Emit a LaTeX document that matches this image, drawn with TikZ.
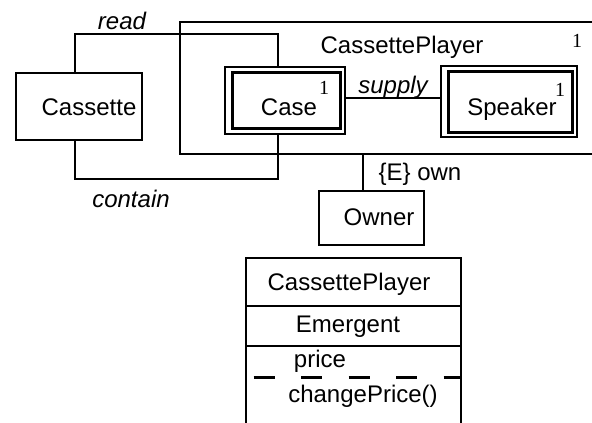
\documentclass[tikz,border=0pt]{standalone}
\usepackage{fontspec}
\setmainfont{Liberation Sans}
\newfontfamily\serifone{Liberation Serif}
\begin{document}
\begin{tikzpicture}[x=1pt,y=-1pt,
  box/.style={draw, line width=2.6pt, inner sep=0pt},
  obox/.style={draw, line width=2pt, inner sep=0pt},
  ibox/.style={draw, line width=3pt, inner sep=0pt},
  conn/.style={line width=2.4pt},
  lbl/.style={font=\fontsize{24}{28}\selectfont, inner sep=0pt, anchor=base},
  ital/.style={font=\fontsize{24}{28}\selectfont\itshape, inner sep=0pt, anchor=base},
  one/.style={font=\serifone\fontsize{20}{22}\selectfont, inner sep=0pt, anchor=base}]
\useasboundingbox (0,0) rectangle (592,423);
% boxes
\node[box, minimum width=126pt, minimum height=67pt] (cassette) at (79,106.5) {};
\node[box, minimum width=420pt, minimum height=132pt] (cp) at (390,88) {};
\node[obox, minimum width=120pt, minimum height=67pt] (caseo) at (285,100.5) {};
\node[ibox, minimum width=108pt, minimum height=56pt] (casei) at (286,100) {};
\node[obox, minimum width=136pt, minimum height=71pt] (spko) at (509,101.5) {};
\node[ibox, minimum width=124pt, minimum height=61pt] (spki) at (510,101.5) {};
\node[box, minimum width=105pt, minimum height=54pt] (owner) at (371.5,218) {};
\node[box, minimum width=215pt, minimum height=48pt] (cls1) at (353.5,282) {};
\node[box, minimum width=215pt, minimum height=40pt] (cls2) at (353.5,326) {};
\node[box, minimum width=215pt, minimum height=94pt] (cls3) at (353.5,393) {};
% texts
\node[lbl] (tcassette) at (89,115) {Cassette};
\node[lbl] (tcp) at (402,53) {CassettePlayer};
\node[one] (onecp) at (577,47) {1};
\node[lbl] (tcase) at (289,115) {Case};
\node[one] (onecase) at (324,94) {1};
\node[lbl] (tspk) at (512,115) {Speaker};
\node[one] (onespk) at (560,96) {1};
\node[ital] (tread) at (122,30) {read};
\node[ital] (tcontain) at (131,207) {contain};
\node[ital] (tsupply) at (393,93) {supply};
\node[lbl] (town) at (420,180) {\{E\} own};
\node[lbl] (towner) at (379,225) {Owner};
\node[lbl] (tcls) at (349,290) {CassettePlayer};
\node[lbl] (temer) at (348,332) {Emergent};
\node[lbl] (tprice) at (320,367) {price};
\node[lbl] (tchange) at (363,402) {changePrice()};
% connectors
\coordinate (readc) at (278,34);
\coordinate (contc) at (278,179);
\draw[conn] ([xshift=-4pt]cassette.north) |- (readc) -- (readc |- caseo.north);
\draw[conn] ([xshift=-4pt]cassette.south) |- (contc) -- (contc |- caseo.south);
\draw[conn] ([yshift=2.5pt]caseo.east) -- ([yshift=2.5pt]caseo.east -| spko.west);
\draw[conn] ([xshift=-8.5pt]owner.north) -- ([xshift=-8.5pt]owner.north |- cp.south);
\draw[line width=3pt, dash pattern=on 21pt off 26.5pt, dash phase=38.5pt]
  (cls3.west |- 0,377) -- (cls3.east |- 0,377);
\end{tikzpicture}
\end{document}
